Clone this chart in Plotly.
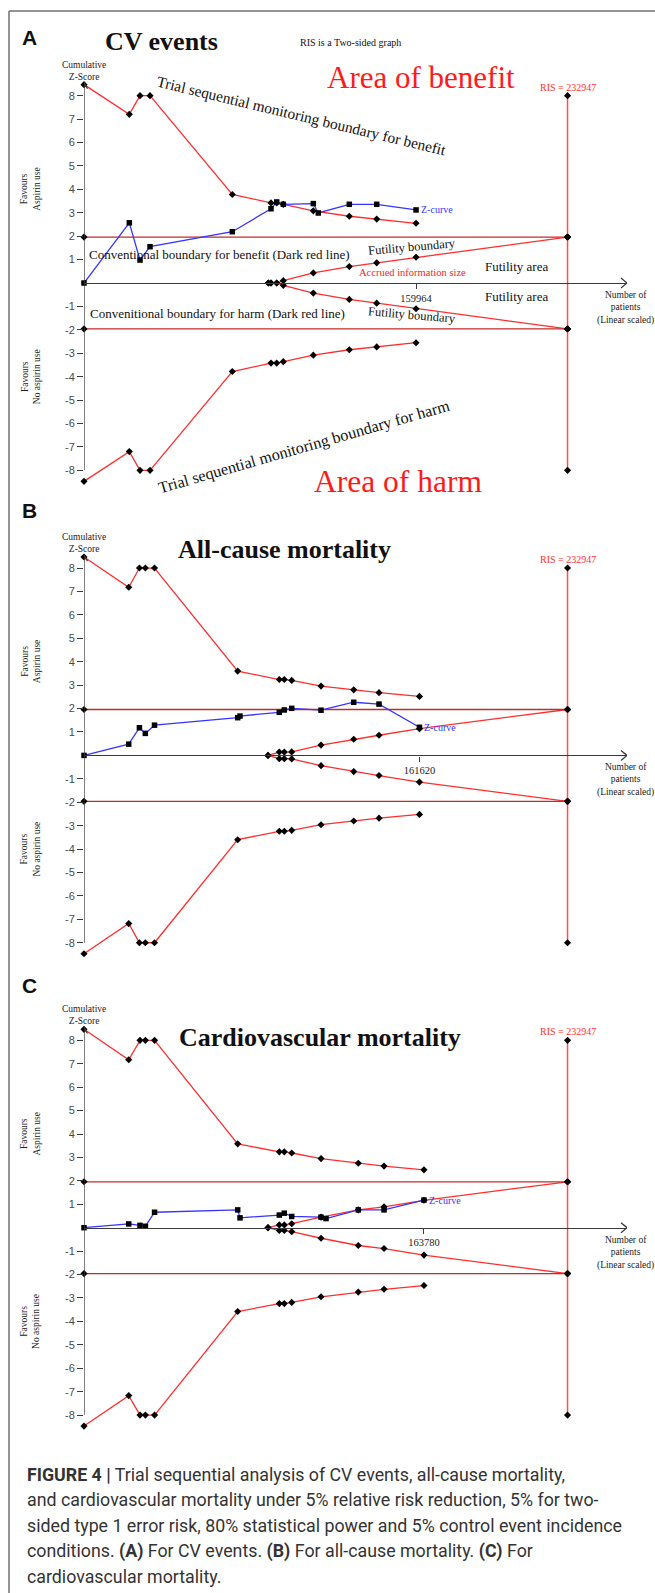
import plotly.graph_objects as go

# ---------------- data ----------------
RIS = 232947
CONV_Z = 1.96
RIS_TOP = 8.0

titles = ["CV events", "All-cause mortality", "Cardiovascular mortality"]
panel_letters = ["A", "B", "C"]

# Panel A - CV events
a_trial_n = [0, 21830, 26980, 31800, 71450, 90100, 92840, 96020, 110480, 112880, 127820, 141020, 159964]
a_zcurve = [0, 2.57, 0.98, 1.55, 2.19, 3.17, 3.46, 3.36, 3.39, 2.99, 3.36, 3.36, 3.12]
a_bound_n = [0, 21830, 26980, 31800, 71450, 90100, 92840, 96020, 110480, 127820, 141020, 159964]
a_bound_z = [8.47, 7.2, 8.0, 8.0, 3.78, 3.42, 3.42, 3.36, 3.08, 2.85, 2.73, 2.55]
a_fut_n = [88800, 90100, 92840, 96020, 110480, 127820, 141020, 159964, 232947]
a_fut_z = [0, 0, 0, 0.1, 0.43, 0.7, 0.86, 1.1, 1.96]

# Panel B - All-cause mortality
b_trial_n = [0, 21540, 26700, 29540, 33970, 74050, 75150, 94090, 96500, 100070, 114190, 129940, 142130, 161620]
b_zcurve = [0, 0.48, 1.18, 0.94, 1.29, 1.61, 1.68, 1.84, 1.94, 2.01, 1.93, 2.27, 2.19, 1.2]
b_bound_n = [0, 21540, 26700, 29540, 33970, 74050, 94090, 96500, 100070, 114190, 129940, 142130, 161620]
b_bound_z = [8.47, 7.18, 8.0, 8.0, 8.0, 3.6, 3.24, 3.24, 3.2, 2.96, 2.8, 2.68, 2.52]
b_fut_n = [88650, 94090, 96500, 100070, 114190, 129940, 142130, 161620, 232947]
b_fut_z = [0, 0.14, 0.14, 0.15, 0.44, 0.69, 0.86, 1.14, 1.96]

# Panel C - Cardiovascular mortality
c_trial_n = [0, 21540, 26980, 29580, 34000, 74050, 75160, 94100, 96500, 100070, 114190, 116600, 132150, 144540, 163780]
c_zcurve = [0, 0.16, 0.1, 0.06, 0.66, 0.76, 0.42, 0.54, 0.62, 0.48, 0.45, 0.39, 0.76, 0.76, 1.18]
c_bound_n = [0, 21540, 26980, 29580, 34000, 74050, 94100, 96500, 100070, 114190, 132150, 144540, 163780]
c_bound_z = [8.47, 7.17, 8.0, 8.0, 8.0, 3.58, 3.24, 3.24, 3.19, 2.95, 2.75, 2.63, 2.47]
c_fut_n = [88650, 94100, 96500, 100070, 114190, 132150, 144540, 163780, 232947]
c_fut_z = [0, 0.12, 0.12, 0.17, 0.45, 0.76, 0.89, 1.17, 1.96]

y_tick_vals = [-8, -7, -6, -5, -4, -3, -2, -1, 1, 2, 3, 4, 5, 6, 7, 8]

caption_lines = [
    "<b>FIGURE 4 |</b> Trial sequential analysis of CV events, all-cause mortality,",
    "and cardiovascular mortality under 5% relative risk reduction, 5% for two-",
    "sided type 1 error risk, 80% statistical power and 5% control event incidence",
    "conditions. <b>(A)</b> For CV events. <b>(B)</b> For all-cause mortality. <b>(C)</b> For",
    "cardiovascular mortality.",
]

panels = [
    dict(n=a_trial_n, z=a_zcurve, bn=a_bound_n, bz=a_bound_z, fn=a_fut_n, fz=a_fut_z),
    dict(n=b_trial_n, z=b_zcurve, bn=b_bound_n, bz=b_bound_z, fn=b_fut_n, fz=b_fut_z),
    dict(n=c_trial_n, z=c_zcurve, bn=c_bound_n, bz=c_bound_z, fn=c_fut_n, fz=c_fut_z),
]

# ---------------- layout geometry ----------------
W, H = 655, 1593
X_L, X_R = 84, 627
N_RANGE = [0, 261600]
Z_RANGE = [-8.8, 8.8]
UNIT = 23.42
ZERO_PX = [283.0, 755.4, 1227.7]

SERIF = "Liberation Serif"
SANS = "Liberation Sans"
RED = "#ff2e2e"
DARKRED = "#c42a2a"
BLUE = "#3535ff"
AXIS = "#3a3a3a"


def fx(x):
    return x / W


def fy(y):
    return 1 - y / H


def zpx(i, z):
    return ZERO_PX[i] - z * UNIT


fig = go.Figure()
annotations = []
shapes = []
layout_axes = {}


def ann(text, x, y, size, color="#111", family=SERIF, angle=0, xanchor="center", yanchor="middle", **kw):
    d = dict(text=text, x=fx(x), y=fy(y), xref="paper", yref="paper", showarrow=False,
             font=dict(family=family, size=size, color=color), textangle=angle,
             xanchor=xanchor, yanchor=yanchor)
    d.update(kw)
    annotations.append(d)


for i, p in enumerate(panels):
    k = "" if i == 0 else str(i + 1)
    xa, ya = "x" + k, "y" + k
    y0 = ZERO_PX[i]
    top_px = y0 - Z_RANGE[1] * UNIT
    bot_px = y0 - Z_RANGE[0] * UNIT
    last_n = p["n"][-1]

    layout_axes["yaxis" + k] = dict(
        domain=[fy(bot_px), fy(top_px)], range=Z_RANGE, anchor=xa,
        tickvals=y_tick_vals, ticktext=[str(v) for v in y_tick_vals],
        ticks="outside", ticklen=6, tickwidth=1.2, tickcolor=AXIS,
        showline=False, showgrid=False, zeroline=False,
        tickfont=dict(family=SANS, size=11, color="#4a4a4a"), fixedrange=True)
    layout_axes["xaxis" + k] = dict(
        domain=[fx(X_L), fx(X_R)], range=N_RANGE, anchor="free", position=fy(y0),
        showline=True, linecolor=AXIS, linewidth=1.3,
        ticks="outside", ticklen=5, tickwidth=1.2, tickcolor=AXIS,
        tickvals=[last_n], ticktext=[str(last_n)],
        tickfont=dict(family=SERIF, size=10.5, color="#222"),
        showgrid=False, zeroline=False, fixedrange=True)

    common = dict(xaxis=xa, yaxis=ya, showlegend=False, cliponaxis=False, hoverinfo="skip")
    dmark = dict(symbol="diamond", size=5.5, color="black")
    # monitoring boundaries
    fig.add_trace(go.Scatter(x=p["bn"], y=p["bz"], mode="lines+markers",
                             line=dict(color=RED, width=1.3), marker=dmark, **common))
    fig.add_trace(go.Scatter(x=p["bn"], y=[-v for v in p["bz"]], mode="lines+markers",
                             line=dict(color=RED, width=1.3), marker=dmark, **common))
    # futility wedge
    fig.add_trace(go.Scatter(x=p["fn"], y=p["fz"], mode="lines+markers",
                             line=dict(color=RED, width=1.3), marker=dmark, **common))
    fig.add_trace(go.Scatter(x=p["fn"], y=[-v for v in p["fz"]], mode="lines+markers",
                             line=dict(color=RED, width=1.3), marker=dmark, **common))
    # conventional boundaries
    for s in (1, -1):
        fig.add_trace(go.Scatter(x=[0, RIS], y=[s * CONV_Z, s * CONV_Z], mode="lines+markers",
                                 line=dict(color=DARKRED, width=1.3), marker=dmark, **common))
    # RIS vertical line
    fig.add_trace(go.Scatter(x=[RIS] * 4, y=[RIS_TOP, CONV_Z, -CONV_Z, -RIS_TOP], mode="lines+markers",
                             line=dict(color="#ff5050", width=1.5), marker=dmark, **common))
    # Z-curve
    fig.add_trace(go.Scatter(x=p["n"], y=p["z"], mode="lines+markers",
                             line=dict(color=BLUE, width=1.3),
                             marker=dict(symbol="square", size=5.5, color="black"), **common))

    # y axis line + arrows
    shapes.append(dict(type="line", xref=xa, yref=ya, x0=0, x1=0, y0=-8, y1=8.55,
                       line=dict(color=AXIS, width=1.3)))
    shapes.append(dict(type="path", xref=xa, yref=ya, xsizemode="pixel", ysizemode="pixel",
                       xanchor=0, yanchor=8.55, path="M -3.5,-6 L 0,0 L 3.5,-6",
                       line=dict(color=AXIS, width=1.2)))
    shapes.append(dict(type="path", xref=xa, yref=ya, xsizemode="pixel", ysizemode="pixel",
                       xanchor=N_RANGE[1], yanchor=0, path="M -6,5 L 0,0 L -6,-5",
                       line=dict(color=AXIS, width=1.3)))

    # axis captions
    ann("Cumulative<br>Z-Score", X_L, y0 - 212.5, 9.5, color="#222")
    ann("Number of<br>patients<br>(Linear scaled)", 625.5, y0 + 25, 9.5, color="#222")
    ann("Favours<br>Aspirin use", 30.5, zpx(i, 4.0), 9.5, color="#222", angle=-90)
    ann("Favours<br>No aspirin use", 30.5, zpx(i, -4.0), 9.5, color="#222", angle=-90)
    # RIS label and Z-curve label (data referenced)
    annotations.append(dict(text="RIS = %d" % RIS, x=RIS, y=RIS_TOP, xref=xa, yref=ya,
                            showarrow=False, yanchor="bottom", yshift=1,
                            font=dict(family=SERIF, size=10, color="#ff3030")))
    annotations.append(dict(text="Z-curve", x=last_n, y=p["z"][-1], xref=xa, yref=ya,
                            showarrow=False, xanchor="left", xshift=3,
                            font=dict(family=SERIF, size=10, color=BLUE)))

# panel letters and titles
ann("<b>A</b>", 19.5, 37, 21, color="#111", family=SANS, xanchor="left")
ann("<b>B</b>", 19.5, 510, 21, color="#111", family=SANS, xanchor="left")
ann("<b>C</b>", 19.5, 985, 21, color="#111", family=SANS, xanchor="left")
ann("<b>%s</b>" % titles[0], 161.5, 41, 26)
ann("<b>%s</b>" % titles[1], 284, 549, 26)
ann("<b>%s</b>" % titles[2], 320, 1037, 26)
ann("RIS is a Two-sided graph", 350, 42, 10)

# panel A explanatory texts
ann("Area of benefit", 421, 78, 31, color="#ff1a1a")
ann("Area of harm", 398, 481, 31.5, color="#ff1a1a")
ann("Trial sequential monitoring boundary for benefit", 301, 116, 15.3, angle=13.5)
ann("Trial sequential monitoring boundary for harm", 304, 447, 16.2, angle=-16)
ann("Conventional boundary for benefit (Dark red line)", 219.5, 254, 13)
ann("Convenitional boundary for harm (Dark red line)", 217, 313, 13)
ann("Futility boundary", 412, 247, 12.5, angle=-5)
ann("Futility boundary", 412, 315, 12.5, angle=5)
ann("Accrued information size", 412, 272, 10.5, color="#ff1a1a")
ann("Futility area", 516, 267, 13)
ann("Futility area", 516, 297, 13)

# caption
cap_y = [1474, 1499.5, 1525, 1550.5, 1576]
for line, yy in zip(caption_lines, cap_y):
    ann(line, 25, yy, 17.8, color="#333", family="Roboto", xanchor="left")

# frame border
shapes.append(dict(type="line", xref="paper", yref="paper", x0=fx(9), x1=fx(9), y0=0, y1=fy(11),
                   line=dict(color="#707070", width=1.5)))
shapes.append(dict(type="line", xref="paper", yref="paper", x0=fx(9), x1=1, y0=fy(11), y1=fy(11),
                   line=dict(color="#707070", width=1.5)))

fig.update_layout(
    width=W, height=H, autosize=False,
    margin=dict(l=0, r=0, t=0, b=0, pad=0),
    paper_bgcolor="white", plot_bgcolor="rgba(0,0,0,0)",
    showlegend=False, annotations=annotations, shapes=shapes,
    **layout_axes)

fig.write_html("out.html")
